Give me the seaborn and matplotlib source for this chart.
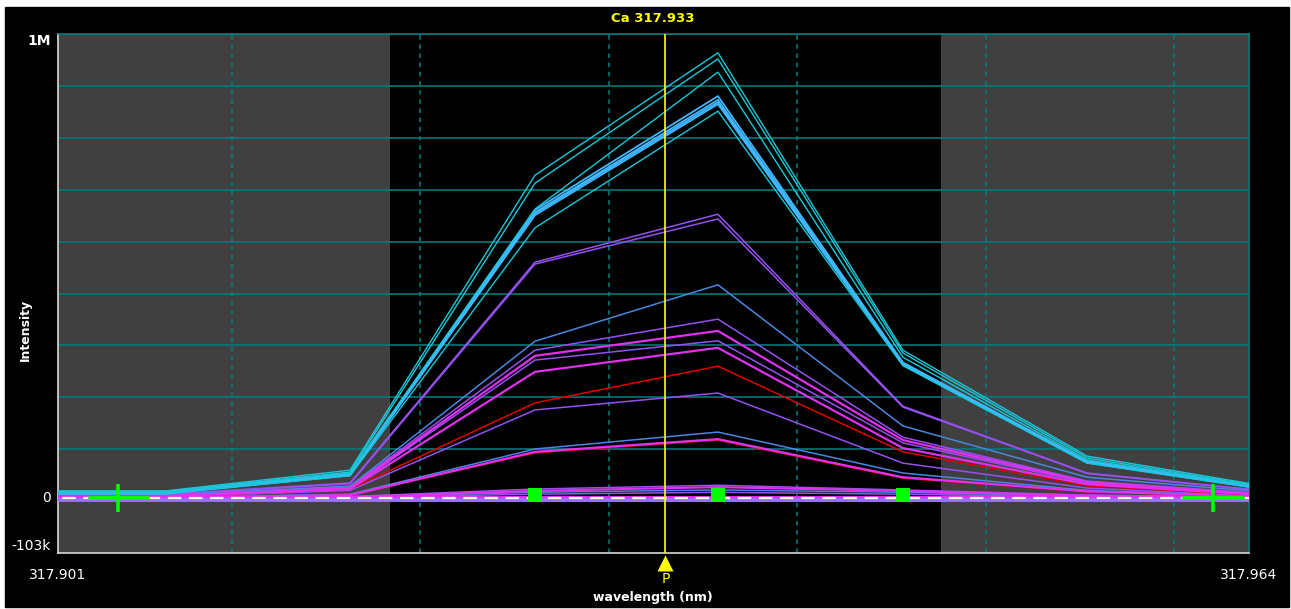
"""
Ca 317.933 emission peak - overlay of all replicate scans (instrument style view).
"""

import numpy as np
import pandas as pd
import matplotlib
matplotlib.use('Agg')
import matplotlib.pyplot as plt
import seaborn as sns
from matplotlib.patches import Rectangle

# 1. DATA
# scan points (nm)
wavelength = [317.89673, 317.90649, 317.91626, 317.92608, 317.93579, 317.94561, 317.95538, 317.96514]

# intensities in k counts, one list per scan, grouped by drawing colour
cyan_lines = [
    [29, 29, 73, 700, 960, 328, 103, 37],
    [28, 28, 69, 683, 947, 322, 99, 35],
    [27, 27, 67, 628, 919, 313, 95, 34],
    [24, 24, 61, 588, 836, 295, 88, 30],
]
lightblue_lines = [
    [26, 26, 65, 626, 868, 302, 92, 33],
    [25, 25, 64, 621, 860, 300, 91, 32],
    [24, 24, 63, 619, 855, 298, 90, 32],
    [23, 23, 62, 615, 851, 297, 89, 31],
]
purple_lines = [
    [22, 22, 46, 515, 617, 209, 67, 28],
    [21, 21, 44, 511, 607, 207, 66, 27],
    [20, 20, 37, 328, 394, 143, 50, 22],
    [18, 18, 34, 307, 348, 131, 46, 20],
    [16, 16, 30, 201, 237, 88, 35, 17],
    [15, 15, 17, 33, 41, 31, 20, 15],
    [14, 14, 15, 22, 26, 22, 16, 14],
]
blue_lines = [
    [20, 20, 39, 347, 467, 167, 58, 25],
    [15, 15, 22, 118, 154, 67, 30, 17],
    [14, 14, 16, 26, 31, 26, 18, 14],
]
magenta_lines = [
    [18, 18, 35, 316, 369, 137, 48, 20],
    [17, 17, 33, 282, 333, 120, 43, 19],
    [15, 15, 20, 112, 139, 58, 28, 16],
    [14, 14, 16, 29, 37, 29, 19, 15],
]
red_lines = [
    [16, 16, 33, 216, 294, 112, 40, 18],
    [15, 15, 20, 110, 137, 56, 27, 16],
]
baseline_purple = [11, 11, 11, 11, 11, 11, 11, 11]
baseline_magenta = [16, 16, 16, 16, 16, 16, 16, 16]
background_level = [13.5, 13.5, 13.5, 13.5, 13.5, 13.5, 13.5, 13.5]

# peak / background positions
peak_wl = 317.933
peak_points_wl = [317.92608, 317.93579, 317.94561]
peak_points_int = [20, 20, 20]
bkg_wl = [317.90394, 317.96207]
bkg_int = [14, 14]
bkg_win = [(317.90246, 317.90554), (317.96053, 317.96366)]

# axis / window settings
XMIN, XMAX = 317.90076, 317.96398
YMIN, YMAX = -103, 1000
window_left, window_right = 317.91838, 317.94763
grid_wl = [317.91, 317.92, 317.93, 317.94, 317.95, 317.96]

# 2. PLOT
sns.set_style('dark')
plt.rcParams['font.family'] = ['DejaVu Sans']

W, H = 1291, 609
fig = plt.figure(figsize=(W / 100, H / 100), dpi=100, facecolor='white')
fig.patches.append(Rectangle((5 / W, 1 - 607 / H), (1289 - 5) / W, (607 - 7) / H,
                             transform=fig.transFigure, color='black', zorder=-10))
ax = fig.add_axes([58 / W, 1 - 553 / H, 1191 / W, 519 / H])
ax.set_facecolor('black')

# gray background regions outside the peak window
ax.axvspan(XMIN, window_left, color='#404040', lw=0, zorder=0)
ax.axvspan(window_right, XMAX, color='#404040', lw=0, zorder=0)

teal = '#008080'
for g in np.linspace(YMIN, YMAX, 11)[1:]:
    ax.axhline(g, color=teal, lw=1.1, zorder=1)
for g in grid_wl:
    ax.axvline(g, color=teal, lw=1.1, ls=(0, (3, 3)), zorder=1)

# scans
groups = [
    (purple_lines, '#9550f0', 1.1),
    (blue_lines, '#4a86e0', 1.1),
    (red_lines, '#e00000', 1.1),
    (magenta_lines, '#e030f0', 1.6),
    (lightblue_lines, '#40b8ff', 1.3),
    (cyan_lines, '#18c8d8', 1.0),
]
for lines, color, lw in groups:
    for vals in lines:
        sns.lineplot(x=wavelength, y=vals, color=color, lw=lw, ax=ax, legend=False, zorder=3)

sns.lineplot(x=wavelength, y=baseline_purple, color='#9a70ff', lw=3.5, ax=ax, legend=False, zorder=3)
sns.lineplot(x=wavelength, y=baseline_magenta, color='#e030f0', lw=1.4, ax=ax, legend=False, zorder=3)
ax.plot(wavelength, background_level, color='white', lw=1.6, dashes=(6, 3.5), zorder=4)

# peak line
ax.axvline(peak_wl, color='#ffff00', lw=1.2, zorder=5)

# background correction points
green = '#00ff00'
for (a, b), y in zip(bkg_win, bkg_int):
    ax.plot([a, b], [y, y], color=green, lw=2.8, solid_capstyle='round', zorder=6)
sns.scatterplot(x=bkg_wl, y=bkg_int, marker='|', s=380, linewidth=2.6, color=green,
                ax=ax, legend=False, zorder=6)
sns.scatterplot(x=peak_points_wl, y=peak_points_int, marker='s', s=110, color=green,
                edgecolor='none', ax=ax, legend=False, zorder=6)

ax.set_xlim(XMIN, XMAX)
ax.set_ylim(YMIN, YMAX)

# axes styling
for side in ['left', 'bottom']:
    ax.spines[side].set_color('#d8d8d8')
    ax.spines[side].set_linewidth(1.2)
for side in ['top', 'right']:
    ax.spines[side].set_color(teal)
    ax.spines[side].set_linewidth(1.1)
ax.grid(False)

ax.set_xticks([XMIN, XMAX], labels=['317.901', '317.964'])
ax.set_yticks([YMAX, 0, YMIN], labels=['1M', '0', '-103k'])
ax.tick_params(axis='x', colors='white', length=8, width=1.2, pad=3, labelsize=10, direction='out')
ax.tick_params(axis='y', colors='white', length=3, width=1.2, pad=2, labelsize=10, direction='out')
for lab, va in zip(ax.get_yticklabels(), ['top', 'bottom', 'bottom']):
    lab.set_verticalalignment(va)
ax.get_yticklabels()[0].set_fontweight('bold')
ax.set_xlabel('')
ax.set_ylabel('')

# peak marker below axis
xtr = ax.get_xaxis_transform()
ax.plot([peak_wl], [-0.019], marker='^', ms=12, color='#ffff00', mec='none',
        transform=xtr, clip_on=False, zorder=7)
ax.text(peak_wl, -0.05, 'P', transform=xtr, color='#ffff00', fontsize=10,
        ha='center', va='center', clip_on=False)

fig.text(653 / W, 1 - 18 / H, 'Ca 317.933', color='#ffff00', fontsize=9.5,
         fontweight='bold', ha='center', va='center')
fig.text(653 / W, 1 - 597 / H, 'wavelength (nm)', color='white', fontsize=9,
         fontweight='bold', ha='center', va='center')
fig.text(25 / W, 1 - 330 / H, 'Intensity', color='white', fontsize=9,
         fontweight='bold', ha='center', va='center', rotation=90)

fig.savefig('out.png', dpi=100, facecolor=fig.get_facecolor())
